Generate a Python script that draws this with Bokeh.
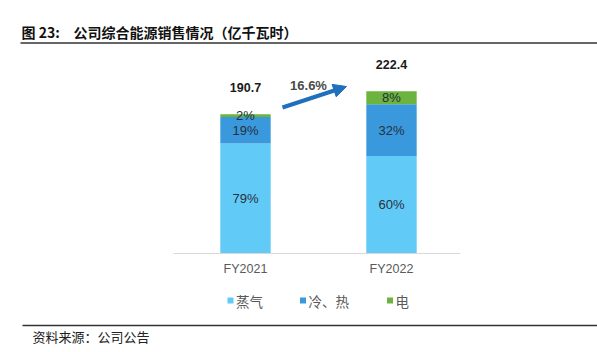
from bokeh.plotting import figure
from bokeh.models import Range1d, Arrow, NormalHead
from bokeh.core.properties import value
from bokeh.embed import file_html
from bokeh.resources import INLINE

# ---- data ----
categories = ["FY2021", "FY2022"]
totals = [190.7, 222.4]
series_names = ["蒸气", "冷、热", "电"]
steam_pct = [79, 60]
coldheat_pct = [19, 32]
power_pct = [2, 8]
growth_label = "16.6%"
title_num = "图 23:"
title_text = "公司综合能源销售情况（亿千瓦时）"
source_text = "资料来源：公司公告"

colors = ["#62caf7", "#3a98dc", "#6cb33f"]

# ---- layout helpers (pixel -> data) ----
W, H = 597, 352
XS = 146.0      # px per category step
X0 = 245.0      # pixel centre of first category
YS = 0.73       # px per unit of value
BASE = 253.0    # pixel row of zero

def X(px):
    return (px - X0) / XS

def Y(py):
    return (BASE - py) / YS

p = figure(width=W, height=H, output_backend="svg", toolbar_location=None,
           x_range=Range1d(X(0), X(W)), y_range=Range1d(Y(H), Y(0)),
           x_axis_location=None, y_axis_location=None, min_border=0)
p.grid.visible = False
p.outline_line_color = None
p.background_fill_color = "white"
p.border_fill_color = "white"

CJK = value("Noto Sans CJK SC")
LAT = value("Liberation Sans")

# ---- bars ----
xs = list(range(len(categories)))
pcts = [steam_pct, coldheat_pct, power_pct]
bottoms = [0.0] * len(categories)
lab_x, lab_y, lab_t = [], [], []
for s, pc in enumerate(pcts):
    vals = [t * q / 100.0 for t, q in zip(totals, pc)]
    tops = [b + v for b, v in zip(bottoms, vals)]
    p.vbar(x=xs, bottom=bottoms, top=tops, width=0.345,
           fill_color=colors[s], line_color=None)
    for i in xs:
        lab_x.append(i)
        lab_y.append((bottoms[i] + tops[i]) / 2.0)
        lab_t.append(f"{pc[i]}%")
    bottoms = tops

p.text(x=lab_x, y=lab_y, text=lab_t, text_font=LAT, text_font_size="13px",
       text_align="center", text_baseline="middle", text_color="#26303c")

# totals above bars
p.text(x=xs, y=[t + 27 / YS for t in totals], text=[f"{t:.1f}" for t in totals],
       text_font=LAT, text_font_size="12.5px", text_font_style="bold",
       text_align="center", text_baseline="middle", text_color="#1a1a1a")

# axis line + category labels
p.segment(x0=[X(173)], y0=[0], x1=[X(460)], y1=[0], line_color="#d9d9d9", line_width=1)
p.text(x=xs, y=[Y(268)] * len(xs), text=categories, text_font=LAT,
       text_font_size="12.5px", text_align="center", text_baseline="middle",
       text_color="#595959")

# growth arrow
p.add_layout(Arrow(end=NormalHead(size=13, fill_color="#1f6fbd", line_color="#1f6fbd"),
                   x_start=X(282), y_start=Y(107), x_end=X(346), y_end=Y(86),
                   line_color="#1f6fbd", line_width=4))
p.text(x=[X(308)], y=[Y(85)], text=[growth_label], text_font=LAT,
       text_font_size="13px", text_font_style="bold", text_align="center",
       text_baseline="middle", text_color="#4a4a4a")

# legend
leg_sq_x = [X(230), X(302.5), X(389.5)]
leg_tx_x = [X(235.5), X(308), X(395)]
p.scatter(x=leg_sq_x, y=[Y(300)] * 3, marker="square", size=6,
          fill_color=colors, line_color=None)
p.text(x=leg_tx_x, y=[Y(300)] * 3, text=series_names, text_font=CJK,
       text_font_size="13.5px", text_align="left", text_baseline="middle",
       text_color="#595959")

# title and source
p.text(x=[X(21)], y=[Y(31)], text=[title_num], text_font=CJK,
       text_font_size="14px", text_font_style="bold", text_align="left",
       text_baseline="middle", text_color="#111111")
p.text(x=[X(73)], y=[Y(31)], text=[title_text], text_font=CJK,
       text_font_size="14px", text_font_style="bold", text_align="left",
       text_baseline="middle", text_color="#111111")
p.segment(x0=[X(20)], y0=[Y(42.5)], x1=[X(597)], y1=[Y(42.5)],
          line_color="#333333", line_width=1.3)
p.segment(x0=[X(22)], y0=[Y(325)], x1=[X(597)], y1=[Y(325)],
          line_color="#333333", line_width=1.3)
p.text(x=[X(32)], y=[Y(336)], text=[source_text], text_font=CJK,
       text_font_size="13px", text_align="left", text_baseline="middle",
       text_color="#222222")

open("out.html", "w").write(file_html(p, INLINE))
